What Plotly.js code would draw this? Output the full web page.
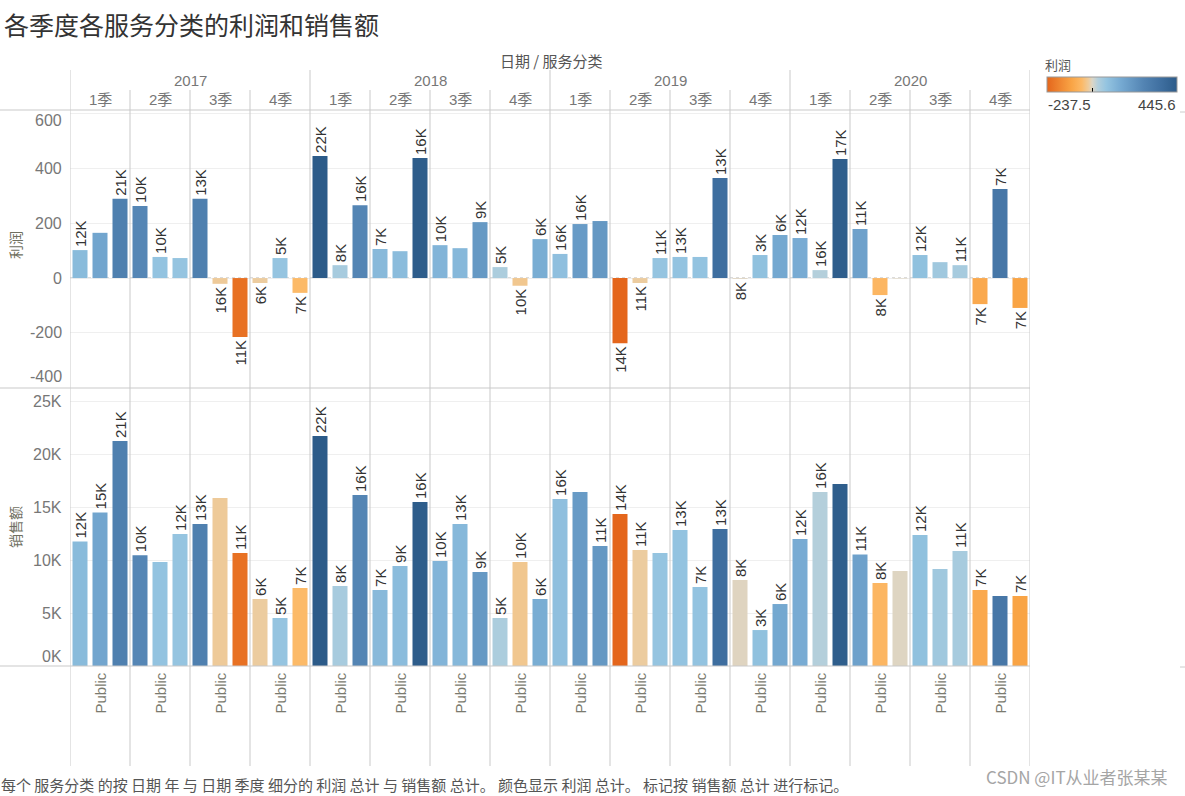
<!DOCTYPE html>
<html><head><meta charset="utf-8">
<script src="https://cdn.plot.ly/plotly-3.0.1.min.js"></script>
<style>html,body{margin:0;padding:0;background:#fff;} #chart{width:1185px;height:796px;}</style>
</head><body><div id="chart"></div>
<script>
// ---------- data ----------
const years = ['2017','2018','2019','2020'];
const quarters = ['1季','2季','3季','4季'];
const categoryLabel = 'Public';
const chartTitle = '各季度各服务分类的利润和销售额';
const headerTitle = '日期 / 服务分类';
const profitTitle = '利润';
const salesTitle = '销售额';
const footerText = '每个 服务分类 的按 日期 年 与 日期 季度 细分的 利润 总计 与 销售额 总计。 颜色显示 利润 总计。 标记按 销售额 总计 进行标记。';
const watermark = 'CSDN @IT从业者张某某';

// one row per quarter (2017 1季 ... 2020 4季), three service categories each
const profit = [
 [102,165,289],[263,77,73],[289,-21,-215],[-18,73,-54],
 [445.6,47,266],[106,98,438],[120,109,204],[40,-28,142],
 [88,197,208],[-237.5,-18,73],[77,77,365],[-3,84,157],
 [146,29,434],[179,-62,-2],[84,58,47],[-95,325,-109]
];
const sales = [
 [11770,14520,21280],[10480,9840,12490],[13430,15890,10690],[6340,4540,7380],
 [21750,7570,16170],[7190,9460,15510],[9930,13430,8890],[4540,9840,6340],
 [15800,16460,11350],[14380,10970,10690],[12860,7470,12960],[8130,3400,5860],
 [12010,16460,17210],[10550,7850,8980],[12390,9170,10880],[7190,6620,6620]
];
// which sales labels Tableau displayed (1 = shown)
const labelShownProfit = [
 [1,0,1],[1,1,0],[1,1,1],[1,1,1],
 [1,1,1],[1,0,1],[1,0,1],[1,1,1],
 [1,1,0],[1,1,1],[1,0,1],[1,1,1],
 [1,1,1],[1,1,0],[1,0,1],[1,1,1]
];
const labelShownSales = [
 [1,1,1],[1,0,1],[1,0,1],[1,1,1],
 [1,1,1],[1,1,1],[1,1,1],[1,1,1],
 [1,0,1],[1,1,0],[1,1,1],[1,1,1],
 [1,1,0],[1,1,0],[1,0,1],[1,0,1]
];
const profitTicks = [-400,-200,0,200,400,600];
const profitTickText = ['-400','-200','0','200','400','600'];
const salesTicks = [0,5000,10000,15000,20000,25000];
const salesTickText = ['0K','5K','10K','15K','20K','25K'];
const legendMin = -237.5, legendMax = 445.6;

// ---------- build ----------
const W = 1185, H = 796;
const px = v => v / W;
const py = v => 1 - v / H;
const nQ = profit.length, nC = profit[0].length;
const xs = [], pf = [], sl = [], tP = [], tS = [];
for (let q = 0; q < nQ; q++) for (let c = 0; c < nC; c++) {
  xs.push(q * nC + c + 0.5);
  pf.push(profit[q][c]);
  sl.push(sales[q][c]);
  const lab = Math.round(sales[q][c] / 1000) + 'K';
  tP.push(labelShownProfit[q][c] ? lab : '');
  tS.push(labelShownSales[q][c] ? lab : '');
}
const pos = v => (v - legendMin) / (legendMax - legendMin);
const colorscale = [
 [0,'#e4661c'],[pos(-109),'#f9a445'],[pos(-55),'#fcb966'],[pos(-20),'#eecb9b'],
 [pos(0),'#dcd6c6'],[pos(30),'#b3cfdc'],[pos(75),'#94c4e0'],[pos(150),'#76aad2'],
 [pos(270),'#5384b3'],[pos(365),'#3e6e9f'],[1,'#2c5b89']
];
const FONT = 'Liberation Sans, Arial, Noto Sans CJK SC, sans-serif';
const CJK = 'Noto Sans CJK SC, sans-serif';
const lblFont = {family: FONT, size: 15, color: '#333'};

const common = {
  type: 'bar', x: xs, width: 0.75, textposition: 'outside', textangle: -90,
  textfont: lblFont, constraintext: 'none', cliponaxis: false, hoverinfo: 'skip',
  marker: {color: pf, colorscale: colorscale, cmin: legendMin, cmax: legendMax, line: {width: 0}}
};
const tr1 = Object.assign({}, common, {y: pf, text: tP, xaxis: 'x', yaxis: 'y',
  marker: Object.assign({}, common.marker, {showscale: true, colorbar: {
    orientation: 'h', x: px(1047), xanchor: 'left', y: py(77), yanchor: 'top',
    len: 130, lenmode: 'pixels', thickness: 15, thicknessmode: 'pixels',
    outlinewidth: 1, outlinecolor: '#999', xpad: 0, ypad: 0,
    tickvals: [0], ticks: 'inside', ticklen: 4, tickcolor: '#000', showticklabels: false
  }})});
const tr2 = Object.assign({}, common, {y: sl, text: tS, xaxis: 'x', yaxis: 'y2',
  marker: Object.assign({}, common.marker, {showscale: false})});

const shapes = [];
const lineC = '#c9c9c9';
[110, 388, 666].forEach(yy => shapes.push({type: 'line', xref: 'paper', yref: 'paper',
  x0: 0, x1: px(1030), y0: py(yy), y1: py(yy), line: {color: lineC, width: 1}}));
for (let k = 0; k <= nQ; k++) {
  shapes.push({type: 'line', xref: 'x', yref: 'paper', x0: k * nC, x1: k * nC,
    y0: py(k % 4 === 0 ? 70 : 90), y1: py(766), line: {color: lineC, width: 1}});
}
shapes.push({type: 'line', xref: 'x', yref: 'y', x0: 0, x1: nQ * nC, y0: 0, y1: 0,
  line: {color: '#b0b0b0', width: 1, dash: 'dot'}, layer: 'below'});
[112, 667].forEach(yy => shapes.push({type: 'line', xref: 'paper', yref: 'paper',
  x0: px(1180), x1: px(1185), y0: py(yy), y1: py(yy), line: {color: '#ccc', width: 1}}));

const ann = [];
const A = (o) => ann.push(Object.assign({showarrow: false}, o));
A({text: chartTitle, xref: 'paper', yref: 'paper', x: px(2), y: py(24), xanchor: 'left', yanchor: 'middle',
   font: {family: CJK, size: 25, color: '#333'}});
A({text: headerTitle, xref: 'paper', yref: 'paper', x: px(551), y: py(61), xanchor: 'center', yanchor: 'middle',
   font: {family: CJK, size: 15, color: '#555'}});
years.forEach((yv, i) => A({text: yv, xref: 'x', yref: 'paper', x: i * 4 * nC + 2 * nC, y: py(80),
   xanchor: 'center', yanchor: 'middle', font: {family: FONT, size: 15, color: '#777'}}));
for (let q = 0; q < nQ; q++) {
  A({text: quarters[q % 4], xref: 'x', yref: 'paper', x: q * nC + nC / 2, y: py(100),
     xanchor: 'center', yanchor: 'middle', font: {family: FONT, size: 15, color: '#777'}});
  A({text: categoryLabel, xref: 'x', yref: 'paper', x: q * nC + nC / 2, y: py(671), textangle: -90,
     xanchor: 'center', yanchor: 'top', font: {family: FONT, size: 15, color: '#7a7a6e'}});
}
// axis tick labels (Tableau nudges the end labels inside the pane)
profitTicks.forEach((v, i) => A({text: profitTickText[i], xref: 'paper', yref: 'y', x: px(64), y: v,
   yshift: i === 0 ? 11 : (i === profitTicks.length - 1 ? -7 : 0),
   xanchor: 'right', yanchor: 'middle', font: {family: FONT, size: 16, color: '#777'}}));
salesTicks.forEach((v, i) => A({text: salesTickText[i], xref: 'paper', yref: 'y2', x: px(64), y: v,
   yshift: i === 0 ? 10 : 0,
   xanchor: 'right', yanchor: 'middle', font: {family: FONT, size: 16, color: '#777'}}));
A({text: profitTitle, xref: 'paper', yref: 'paper', x: px(15), y: py(245), textangle: -90,
   xanchor: 'center', yanchor: 'middle', font: {family: CJK, size: 14, color: '#6f6f5f'}});
A({text: salesTitle, xref: 'paper', yref: 'paper', x: px(15), y: py(527), textangle: -90,
   xanchor: 'center', yanchor: 'middle', font: {family: CJK, size: 14, color: '#6f6f5f'}});
A({text: profitTitle, xref: 'paper', yref: 'paper', x: px(1043), y: py(64), xanchor: 'left', yanchor: 'middle',
   font: {family: CJK, size: 13, color: '#555'}});
A({text: String(legendMin), xref: 'paper', yref: 'paper', x: px(1046), y: py(105), xanchor: 'left', yanchor: 'middle',
   font: {family: FONT, size: 15, color: '#444'}});
A({text: String(legendMax), xref: 'paper', yref: 'paper', x: px(1178), y: py(105), xanchor: 'right', yanchor: 'middle',
   font: {family: FONT, size: 15, color: '#444'}});
A({text: footerText, xref: 'paper', yref: 'paper', x: 0, xshift: -1, y: py(784), xanchor: 'left', yanchor: 'middle',
   font: {family: CJK, size: 15, color: '#555'}});
A({text: watermark, xref: 'paper', yref: 'paper', x: px(1170), y: py(776), xanchor: 'right', yanchor: 'middle',
   font: {family: CJK, size: 17, color: '#a5a5a5'}});

const layout = {
  width: W, height: H, margin: {l: 0, r: 0, t: 0, b: 0}, paper_bgcolor: '#fff', plot_bgcolor: '#fff',
  showlegend: false, font: {family: FONT},
  xaxis: {domain: [px(70), px(1030)], range: [0, nQ * nC], showgrid: false, zeroline: false,
    showticklabels: false, ticks: '', anchor: 'y2', fixedrange: true},
  yaxis: {domain: [py(388), py(110)], range: [-401, 613], tickvals: profitTicks, ticks: '',
    gridcolor: '#efefef', zeroline: false, showline: false, anchor: 'x', showticklabels: false, fixedrange: true},
  yaxis2: {domain: [py(666), py(388)], range: [0, 26290], tickvals: salesTicks, ticks: '',
    gridcolor: '#efefef', zeroline: false, showline: false, anchor: 'x', showticklabels: false, fixedrange: true},
  shapes: shapes, annotations: ann
};
Plotly.newPlot('chart', [tr1, tr2], layout, {displayModeBar: false, staticPlot: true});
</script>
</body></html>
